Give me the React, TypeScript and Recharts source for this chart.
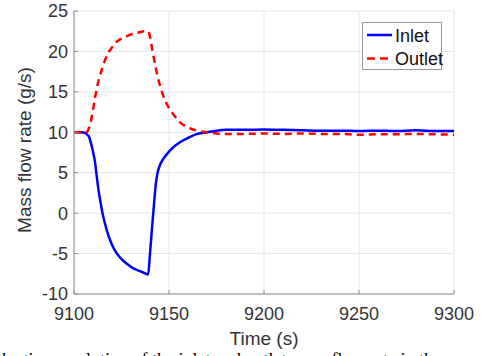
import React from "react";
import { LineChart, Line, XAxis, YAxis, CartesianGrid, Legend, Label } from "recharts";

const times = [9100, 9104, 9106, 9107, 9108, 9109, 9110, 9111, 9112, 9113, 9114, 9115, 9116, 9118, 9120, 9122, 9125, 9128, 9131, 9134, 9137, 9139, 9140, 9141, 9142, 9143, 9144, 9145, 9147, 9150, 9153, 9156, 9160, 9165, 9170, 9175, 9180, 9190, 9200, 9210, 9220, 9230, 9240, 9250, 9260, 9270, 9280, 9290, 9300];
const inlet = [10, 10, 9.9, 9.7, 9.4, 8.6, 7.6, 6.4, 4.5, 2.7, 1.3, 0, -1.0, -2.7, -3.9, -4.8, -5.7, -6.3, -6.8, -7.1, -7.4, -7.6, -5.0, -2.0, 0.8, 3.5, 5.0, 5.8, 6.7, 7.6, 8.3, 8.8, 9.3, 9.8, 10.0, 10.2, 10.3, 10.3, 10.35, 10.3, 10.25, 10.2, 10.2, 10.15, 10.2, 10.15, 10.25, 10.15, 10.15];
const outlet = [10, 10, 10, 10.1, 10.6, 11.5, 12.8, 14.2, 15.4, 16.5, 17.3, 18.0, 18.7, 19.8, 20.5, 21.1, 21.6, 21.9, 22.2, 22.35, 22.5, 22.5, 21.8, 20.5, 19.2, 18.0, 16.9, 16.0, 14.5, 13.0, 12.0, 11.2, 10.6, 10.2, 10.0, 9.85, 9.8, 9.8, 9.85, 9.8, 9.85, 9.8, 9.8, 9.7, 9.75, 9.75, 9.8, 9.75, 9.7];
const xTicks = [9100, 9150, 9200, 9250, 9300];
const yTicks = [-10, -5, 0, 5, 10, 15, 20, 25];

const data = times.map((t, i) => ({ t, inlet: inlet[i], outlet: outlet[i] }));

const FONT = "'Liberation Sans', Arial, Helvetica, sans-serif";
const TEXT = "#333333";
const AXIS = "#8c8c8c";

const BottomTick = (props: any) => {
  const { x, y, payload } = props;
  return (
    <g>
      <line x1={x} x2={x} y1={y - 13} y2={y - 17} stroke={AXIS} strokeWidth={1} />
      <text x={x} y={y} dy="0.71em" textAnchor="middle" fill={TEXT} fontSize={18} fontFamily={FONT}>
        {payload.value}
      </text>
    </g>
  );
};
const LeftTick = (props: any) => {
  const { x, y, payload } = props;
  return (
    <g>
      <line x1={x + 6} x2={x + 10} y1={y} y2={y} stroke={AXIS} strokeWidth={1} />
      <text x={x} y={y} dy="0.355em" textAnchor="end" fill={TEXT} fontSize={18} fontFamily={FONT}>
        {payload.value}
      </text>
    </g>
  );
};
const TopTick = (props: any) => {
  const { x, y } = props;
  return <line x1={x} x2={x} y1={y} y2={y + 4} stroke={AXIS} strokeWidth={1} />;
};
const RightTick = (props: any) => {
  const { x, y } = props;
  return <line x1={x} x2={x - 4} y1={y} y2={y} stroke={AXIS} strokeWidth={1} />;
};

const LegendBox = () => (
  <div
    style={{
      width: 78,
      height: 46,
      border: "1px solid #999",
      background: "#fff",
      fontFamily: FONT,
      fontSize: 18,
      color: "#111",
      position: "relative",
    }}
  >
    <svg width={80} height={48} style={{ position: "absolute", left: 0, top: 0 }}>
      <line x1={4} x2={29} y1={12} y2={12} stroke="#0000ff" strokeWidth={2.5} />
      <line x1={4} x2={29} y1={35.5} y2={35.5} stroke="#ff0000" strokeWidth={2.5} strokeDasharray="8 5" />
      <text x={32} y={18.5} fontSize={18} fontFamily={FONT} fill="#111">Inlet</text>
      <text x={32} y={42} fontSize={18} fontFamily={FONT} fill="#111">Outlet</text>
    </svg>
  </div>
);

export default function App() {
  return (
    <div style={{ position: "absolute", left: 0, top: 0, width: 482, height: 356, background: "#fff", overflow: "hidden" }}>
      <LineChart width={482} height={356} data={data} margin={{ top: 11, right: 28, bottom: 22, left: 0 }}>
        <CartesianGrid stroke="#e6e6e6" strokeWidth={1} />
        <XAxis
          dataKey="t"
          type="number"
          domain={[9100, 9300]}
          ticks={xTicks}
          height={40}
          tickSize={0}
          tickMargin={13}
          tick={<BottomTick />}
          axisLine={{ stroke: AXIS }}
          tickLine={false}
          allowDataOverflow
        >
          <Label
            content={() => (
              <text x={264} y={345} textAnchor="middle" fill={TEXT} fontSize={19} fontFamily={FONT}>
                Time (s)
              </text>
            )}
          />
        </XAxis>
        <XAxis
          xAxisId="top"
          orientation="top"
          dataKey="t"
          type="number"
          domain={[9100, 9300]}
          ticks={xTicks}
          height={0}
          tickSize={0}
          tickMargin={0}
          tick={<TopTick />}
          axisLine={{ stroke: AXIS }}
          tickLine={false}
        />
        <YAxis
          type="number"
          domain={[-10, 25]}
          ticks={yTicks}
          width={74}
          tickSize={0}
          tickMargin={6}
          tick={<LeftTick />}
          axisLine={{ stroke: AXIS }}
          tickLine={false}
          allowDataOverflow
        >
          <Label
            content={() => (
              <text x={31} y={150} transform="rotate(-90 31 150)" textAnchor="middle" fill={TEXT} fontSize={19} fontFamily={FONT}>
                Mass flow rate (g/s)
              </text>
            )}
          />
        </YAxis>
        <YAxis
          yAxisId="right"
          orientation="right"
          type="number"
          domain={[-10, 25]}
          ticks={yTicks}
          width={0}
          tickSize={0}
          tickMargin={0}
          tick={<RightTick />}
          axisLine={{ stroke: AXIS }}
          tickLine={false}
        />
        <Line
          type="monotone"
          dataKey="inlet"
          stroke="#0000ff"
          strokeWidth={2.5}
          dot={false}
          isAnimationActive={false}
        />
        <Line
          type="monotone"
          dataKey="outlet"
          stroke="#ff0000"
          strokeWidth={2.5}
          strokeDasharray="7 5"
          dot={false}
          isAnimationActive={false}
        />
        <Legend
          layout="vertical"
          align="center"
          verticalAlign="middle"
          content={() => <LegendBox />}
          wrapperStyle={{ position: "absolute", left: 362, top: 22, width: 80, height: 48 }}
        />
      </LineChart>
      <div
        style={{
          position: "absolute",
          left: 2,
          top: 350,
          fontFamily: "'Liberation Serif', 'Times New Roman', serif",
          fontSize: 18,
          whiteSpace: "nowrap",
          color: "#000",
          lineHeight: "20px",
        }}
      >
        he time evolution of the inlet and outlet mass flow rate in the
      </div>
    </div>
  );
}
